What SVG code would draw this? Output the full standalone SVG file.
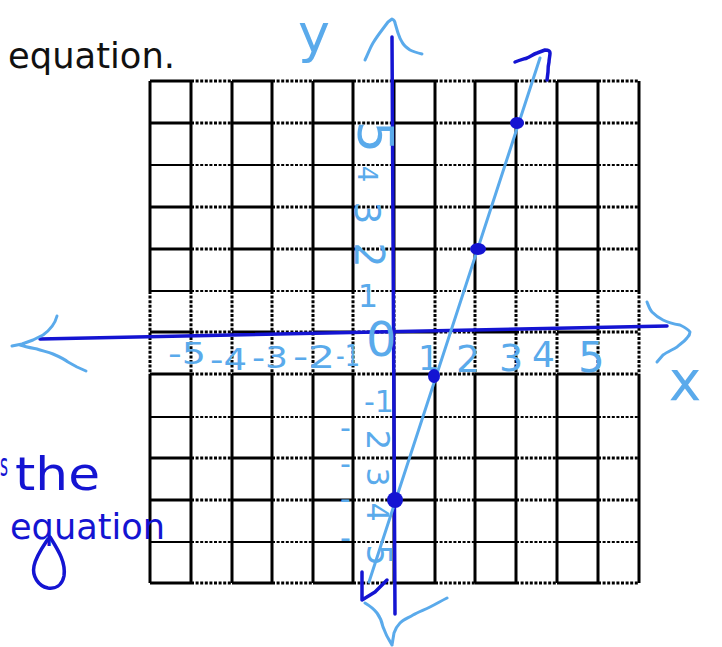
<svg xmlns="http://www.w3.org/2000/svg" width="722" height="647" viewBox="0 0 722 647">
<style>
.sol{stroke:#000;fill:none}
.dot{stroke:#000;fill:none;stroke-dasharray:3 1.6}
.tk{stroke-width:3}
.tn{stroke-width:2}
.lb{stroke:#5aaaeb;fill:none;stroke-width:3;stroke-linecap:round;stroke-linejoin:round}
.db{stroke:#1414d2;fill:none;stroke-width:3.5;stroke-linecap:round;stroke-linejoin:round}
.hl{fill:#5aaaeb;font-family:"DejaVu Sans",sans-serif}
.hd{fill:#1414d2;font-family:"DejaVu Sans",sans-serif}
.rc{text-anchor:middle;dominant-baseline:central}
</style>
<defs>
<g id="rowThick">
<path class="sol tk" d="M150,0H191M232,0H272M313,0H353M394,0H435M475,0H516M557,0H598"/>
<path class="dot tk" d="M191,0H232M272,0H313M353,0H394M435,0H475M516,0H557M598,0H639"/>
</g>
<g id="rowThin">
<path class="sol tn" d="M150,0H191M232,0H272M313,0H353M394,0H435M475,0H516M557,0H598"/>
<path class="dot tn" d="M191,0H232M272,0H313M353,0H394M435,0H475M516,0H557M598,0H639"/>
</g>
<g id="col">
<path class="sol tk" d="M0,81V291M0,374V583"/>
<path class="dot tk" d="M0,291V374"/>
</g>
</defs>
<rect width="722" height="647" fill="#fff"/>
<text id="title" x="8" y="68" font-family="DejaVu Sans,sans-serif" font-size="36" fill="#111" textLength="167" lengthAdjust="spacingAndGlyphs">equation.</text>
<g id="grid">
<use href="#col" x="150"/><use href="#col" x="191"/><use href="#col" x="232"/><use href="#col" x="272"/><use href="#col" x="313"/><use href="#col" x="353"/><use href="#col" x="394"/><use href="#col" x="435"/><use href="#col" x="475"/><use href="#col" x="516"/><use href="#col" x="557"/><use href="#col" x="598"/><use href="#col" x="639"/>
<use href="#rowThick" y="81"/><use href="#rowThick" y="123"/><use href="#rowThin" y="165"/><use href="#rowThick" y="207"/><use href="#rowThick" y="249"/><use href="#rowThin" y="291"/><use href="#rowThick" y="332"/><use href="#rowThick" y="374"/><use href="#rowThin" y="417"/><use href="#rowThick" y="458"/><use href="#rowThick" y="500"/><use href="#rowThin" y="542"/><use href="#rowThick" y="583"/>
</g>
<g id="axes">
<path class="db" d="M392,37L395,614"/>
<path class="db" d="M40,339L667,326"/>
<path class="lb" d="M57,316C55,324 50,330 43,335L33,340 22,344 12,346M20,345C26,347 32,348 37,349C43,351 48,352 53,354C60,357 64,359 68,362L77,367 86,371"/>
<path class="lb" d="M647,302C649,307 650,310 652,312C656,316 659,318 663,320C669,323 674,324 680,325C684,327 688,329 690,332C690,334 689,336 687,338C684,342 680,344 677,347C672,350 667,352 663,355L657,362"/>
<path class="lb" d="M365,60C368,54 370,48 373,43C376,38 379,34 382,30L388,22 392,19C394,20 395,21 395,23C396,26 397,30 398,33C399,36 400,39 402,42C404,46 407,48 410,50C414,52 418,53 422,54"/>
<path class="lb" d="M365,603C370,606 374,609 377,613C380,617 382,622 383,627C385,631 386,635 388,638L392,645M447,598C441,601 436,604 430,607C424,610 418,612 413,615C408,618 403,620 400,623C397,626 395,630 394,633L392,645"/>
</g>
<g id="labels">
<text class="hl" x="314" y="52" font-size="54" text-anchor="middle">y</text>
<text class="hl" x="685" y="400" font-size="55" text-anchor="middle">x</text>
<text class="hl" x="366" y="356" font-size="48">0</text>
<text class="hl" x="168" y="364" font-size="30" textLength="38" lengthAdjust="spacingAndGlyphs">-5</text>
<text class="hl" x="210" y="370" font-size="30" textLength="37" lengthAdjust="spacingAndGlyphs">-4</text>
<text class="hl" x="252" y="368" font-size="30" textLength="36" lengthAdjust="spacingAndGlyphs">-3</text>
<text class="hl" x="293" y="368" font-size="32" textLength="42" lengthAdjust="spacingAndGlyphs">-2</text>
<text class="hl" x="336" y="366" font-size="30" textLength="24" lengthAdjust="spacingAndGlyphs">-1</text>
<text class="hl" x="418" y="370" font-size="34">1</text>
<text class="hl" x="456" y="372" font-size="38">2</text>
<text class="hl" x="499" y="371" font-size="38">3</text>
<text class="hl" x="532" y="367" font-size="36">4</text>
<text class="hl" x="578" y="372" font-size="42">5</text>
<text class="hl rc" transform="translate(375,137) rotate(90)" font-size="50">5</text>
<text class="hl rc" transform="translate(367,174) rotate(90)" font-size="26">4</text>
<text class="hl rc" transform="translate(367,213) rotate(90)" font-size="36">3</text>
<text class="hl rc" transform="translate(369,255) rotate(90)" font-size="40">2</text>
<text class="hl rc" x="368" y="296" font-size="32">1</text>
<text class="hl" x="364" y="412" font-size="30">-1</text>
<text class="hl" x="340" y="438" font-size="30">-</text>
<text class="hl rc" transform="translate(378,440) rotate(90)" font-size="32">2</text>
<text class="hl" x="340" y="474" font-size="30">-</text>
<text class="hl rc" transform="translate(377,477) rotate(90)" font-size="30">3</text>
<text class="hl" x="340" y="509" font-size="30">-</text>
<text class="hl rc" transform="translate(377,512) rotate(90)" font-size="30">4</text>
<text class="hl" x="340" y="548" font-size="30">-</text>
<text class="hl rc" transform="translate(379,555) rotate(90)" font-size="34">5</text>
</g>
<g id="line">
<path class="lb" d="M369,582L540,58"/>
<path class="db" d="M515,62C520,60 524,59 527,58C531,56 534,54 537,53L545,50C548,50 550,51 550,53C550,56 549,59 549,62C548,66 548,69 548,72L547,80"/>
<path class="db" d="M362,572L362,600 375,592 387,580"/>
<ellipse cx="517" cy="123" rx="7" ry="6" fill="#1414d2"/>
<ellipse cx="478" cy="249" rx="8" ry="6" fill="#1414d2"/>
<ellipse cx="434" cy="376" rx="6" ry="7" fill="#1414d2"/>
<ellipse cx="395" cy="500" rx="8" ry="8" fill="#1414d2"/>
</g>
<g id="note">
<text class="hd" x="0" y="476" font-size="32" textLength="8" lengthAdjust="spacingAndGlyphs">s</text>
<text class="hd" x="15" y="490" font-size="46" textLength="85" lengthAdjust="spacingAndGlyphs">the</text>
<text class="hd" x="10" y="539" font-size="36" textLength="155" lengthAdjust="spacingAndGlyphs">equation</text>
<path class="db" d="M50,537C58,550 66,562 64,576C62,586 55,589 48,588C38,586 32,576 34,566C36,556 42,548 48,539"/>
</g>
</svg>
